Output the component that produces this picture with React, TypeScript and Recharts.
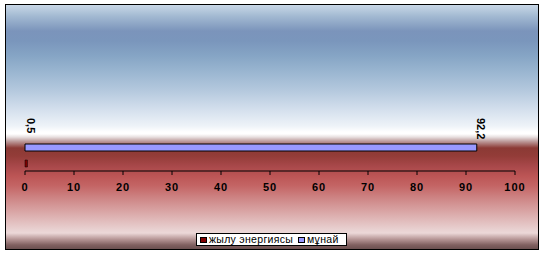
import React from 'react';
import { BarChart, Bar, XAxis, YAxis, Legend, LabelList } from 'recharts';

const categories = [''];
const heatValues = [0.5];
const oilValues = [92.2];
const seriesNames = ['жылу энергиясы', 'мұнай'];
const seriesColors = ['#800000', '#9999FF'];
const xTicks = [0, 10, 20, 30, 40, 50, 60, 70, 80, 90, 100];

const data = categories.map((c, i) => ({ name: c, heat: heatValues[i], oil: oilValues[i] }));

const FONT = '"Liberation Sans", Arial, sans-serif';

const fmt = (v: number) => String(v).replace('.', ',');

const makeLabel = (dy: number) => (props: any) => {
  const { x, y, width, value } = props;
  const lx = Number(x) + Number(width) + 4;
  const ly = Number(y) + dy;
  return (
    <text
      x={lx}
      y={ly}
      transform={`rotate(90 ${lx} ${ly})`}
      textAnchor="start"
      dominantBaseline="central"
      fontFamily={FONT}
      fontSize={11}
      fontWeight="bold"
      fill="#000"
    >
      {fmt(value)}
    </text>
  );
};

const renderLegend = () => (
  <div
    style={{
      boxSizing: 'border-box',
      width: 151,
      height: 13,
      background: '#fff',
      border: '1px solid #000',
      display: 'flex',
      alignItems: 'center',
      paddingLeft: 3,
      fontFamily: FONT,
      fontSize: 10.5,
      lineHeight: '11px',
      color: '#000',
      whiteSpace: 'nowrap',
      overflow: 'hidden',
    }}
  >
    {seriesNames.map((n, i) => (
      <span key={n} style={{ display: 'flex', alignItems: 'center', marginRight: i === 0 ? 5 : 0 }}>
        <span
          style={{
            display: 'inline-block',
            boxSizing: 'border-box',
            width: 7,
            height: 6,
            background: seriesColors[i],
            border: '1px solid #000',
            marginRight: 2,
          }}
        />
        <span style={{ letterSpacing: 0.3 }}>{n}</span>
      </span>
    ))}
  </div>
);

const bg =
  'linear-gradient(to bottom, #c8d7e7 0px, #a3bad2 11px, #7b94bb 26px, #7a96bc 36px, #86a5c5 51px, #99b5d0 66px, #b5c9de 86px, #d6e1ee 106px, #eef3f8 121px, #ffffff 127px, #ffffff 129px, #e8e0e0 132px, #c0a0a0 136px, #8b3a35 143px, #933c38 151px, #a8484a 161px, #bc5555 171px, #c46565 181px, #d08c8c 196px, #ddb0b0 211px, #e8d0d0 224px, #ecd8d8 228px, #b89898 234px, #806060 240px, #604848 246px)';

export default function App() {
  return (
    <div style={{ position: 'absolute', left: 0, top: 0, width: 544, height: 253, background: '#fff' }}>
      <div
        style={{
          position: 'absolute',
          left: 5,
          top: 4,
          width: 534,
          height: 246,
          boxSizing: 'border-box',
          border: '1px solid #000',
          background: bg,
        }}
      />
      <div style={{ position: 'absolute', left: 0, top: 0 }}>
        <BarChart
          width={544}
          height={253}
          data={data}
          layout="vertical"
          margin={{ top: 140, right: 29, left: 25, bottom: 52 }}
          barSize={7}
          barGap={9}
        >
          <XAxis
            type="number"
            domain={[0, 100]}
            ticks={xTicks}
            interval={0}
            height={30}
            axisLine={{ stroke: '#000', strokeWidth: 1 }}
            tickLine={{ stroke: '#000', strokeWidth: 1 }}
            tickSize={4}
            tickMargin={8}
            tick={{ fill: '#000', fontFamily: FONT, fontSize: 11, fontWeight: 'bold', letterSpacing: 1 }}
          />
          <YAxis type="category" dataKey="name" hide />
          <Legend
            content={renderLegend}
            layout="horizontal"
            verticalAlign="middle"
            align="center"
            wrapperStyle={{ left: 196, top: 233, width: 151, height: 13 }}
          />
          <Bar dataKey="oil" name={seriesNames[1]} fill={seriesColors[1]} stroke="#000" strokeWidth={1} isAnimationActive={false}>
            <LabelList dataKey="oil" content={makeLabel(-26)} />
          </Bar>
          <Bar dataKey="heat" name={seriesNames[0]} fill={seriesColors[0]} stroke="#000" strokeWidth={0.5} isAnimationActive={false}>
            <LabelList dataKey="heat" content={makeLabel(-42)} />
          </Bar>
        </BarChart>
      </div>
    </div>
  );
}
